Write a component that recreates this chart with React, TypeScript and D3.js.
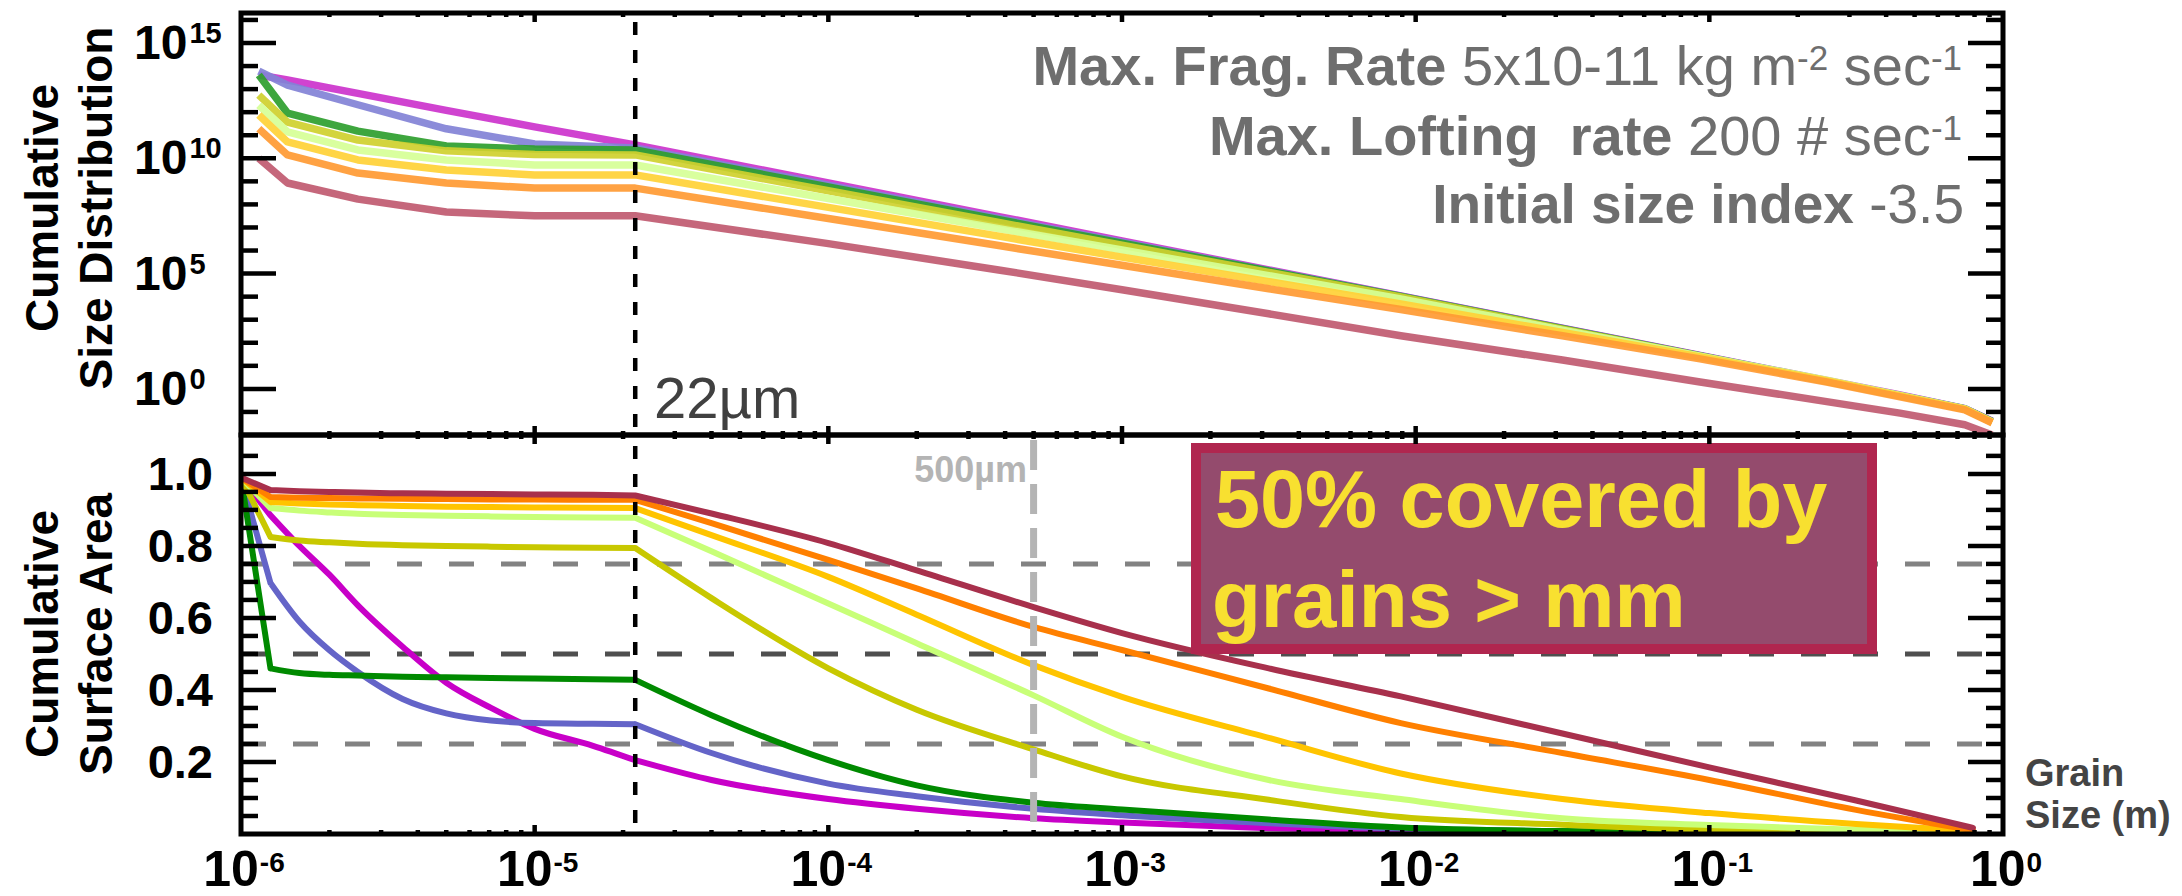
import React, { useEffect } from "react";
import * as d3 from "d3";

const W = 2182;
const H = 896;
const FONT = "'Liberation Sans', Arial, Helvetica, sans-serif";

// upper panel: grain size (m) and cumulative number of grains per run
const topSizes = [1.15e-6, 1.44e-6, 2.5e-6, 5e-6, 1e-5, 2.2e-5, 1e-4, 3.85e-4, 1e-3, 3.16e-3, 8.9e-3, 3.16e-2, 9.3e-2, 0.251, 0.446, 0.741, 0.918];
const topMagenta = [4.1e13, 2.5e13, 6.5e12, 1.2e12, 2.3e11, 3.8e10, 8.5e8, 2.9e7, 2.6e6, 1.45e5, 1.07e4, 430, 28, 2.3, 0.54, 0.14, 0.04];
const topBlue = [6.0e13, 1.5e13, 2.1e12, 1.9e11, 4.2e10, 2.8e10, 6.8e8, 2.4e7, 2.3e6, 1.35e5, 1.05e4, 417, 27.5, 2.24, 0.525, 0.138, 0.039];
const topGreen = [4.1e13, 9.1e11, 1.5e11, 3.4e10, 2.5e10, 2.3e10, 5.75e8, 2.1e7, 2.1e6, 1.29e5, 1.02e4, 407, 26.9, 2.19, 0.513, 0.135, 0.038];
const topOlive = [5.5e12, 3.7e11, 6.2e10, 2.1e10, 1.45e10, 1.4e10, 3.9e8, 1.6e7, 1.7e6, 1.12e5, 9.8e3, 389, 26.3, 2.14, 0.5, 0.132, 0.037];
const topLightGreen = [2.0e12, 1.4e11, 2.3e10, 8.5e9, 5.1e9, 5.1e9, 1.8e8, 8.7e6, 1.05e6, 8.1e4, 7.9e3, 355, 26.3, 2.4, 0.525, 0.135, 0.036];
const topYellow = [7.6e11, 5.1e10, 8.5e9, 3.1e9, 1.9e9, 1.9e9, 7.4e7, 4.1e6, 5.2e5, 4.5e4, 4.8e3, 282, 24, 2.24, 0.5, 0.132, 0.0355];
const topOrange = [1.9e11, 1.4e10, 2.3e9, 8.5e8, 5.1e8, 5.1e8, 2.45e7, 1.6e6, 2.3e5, 2.2e4, 2.75e3, 200, 20, 2.0, 0.45, 0.123, 0.034];
const topRose = [1.0e10, 8.5e8, 1.7e8, 4.7e7, 3.2e7, 3.2e7, 2.0e6, 1.4e5, 2.0e4, 1.8e3, 200, 17.8, 2.0, 0.28, 0.089, 0.028, 0.01];

// lower panel: grain size (m) and cumulative surface area fraction
const botSizes = [1e-6, 1.26e-6, 1.58e-6, 2e-6, 2.5e-6, 3.55e-6, 5e-6, 7.1e-6, 1e-5, 1.58e-5, 2.2e-5, 4e-5, 1e-4, 2e-4, 5e-4, 1e-3, 3.16e-3, 8.9e-3, 3.16e-2, 0.1, 0.316, 0.79];
const botMaroon = [0.99, 0.955, 0.952, 0.95, 0.948, 0.946, 0.945, 0.944, 0.943, 0.942, 0.94, 0.89, 0.808, 0.732, 0.63, 0.558, 0.46, 0.382, 0.279, 0.185, 0.093, 0.017];
const botOrange = [0.99, 0.936, 0.934, 0.933, 0.932, 0.931, 0.93, 0.929, 0.929, 0.928, 0.928, 0.863, 0.761, 0.682, 0.575, 0.511, 0.404, 0.308, 0.225, 0.15, 0.067, 0.01];
const botGold = [0.99, 0.922, 0.918, 0.915, 0.913, 0.911, 0.909, 0.908, 0.907, 0.906, 0.905, 0.83, 0.714, 0.609, 0.469, 0.381, 0.267, 0.168, 0.097, 0.058, 0.028, 0.008];
const botLightGreen = [0.99, 0.905, 0.898, 0.893, 0.889, 0.886, 0.884, 0.882, 0.88, 0.879, 0.878, 0.785, 0.64, 0.53, 0.385, 0.27, 0.15, 0.097, 0.044, 0.025, 0.012, 0.004];
const botOlive = [0.99, 0.825, 0.815, 0.81, 0.806, 0.802, 0.8, 0.798, 0.796, 0.795, 0.794, 0.655, 0.46, 0.345, 0.235, 0.16, 0.095, 0.047, 0.026, 0.012, 0.006, 0.002];
const botGreen = [0.99, 0.46, 0.447, 0.442, 0.44, 0.437, 0.435, 0.433, 0.432, 0.43, 0.428, 0.33, 0.205, 0.135, 0.087, 0.068, 0.04, 0.018, 0.008, 0.004, 0.002, 0.001];
const botBlue = [0.99, 0.697, 0.59, 0.51, 0.45, 0.375, 0.335, 0.315, 0.308, 0.306, 0.305, 0.225, 0.14, 0.105, 0.07, 0.052, 0.03, 0.015, 0.007, 0.003, 0.0015, 0.001];
const botMagenta = [0.99, 0.885, 0.8, 0.72, 0.635, 0.52, 0.42, 0.35, 0.292, 0.245, 0.205, 0.15, 0.097, 0.07, 0.044, 0.032, 0.016, 0.008, 0.004, 0.002, 0.001, 0.0005];

// tick labels
const xTickExps = [-6, -5, -4, -3, -2, -1, 0];
const yTopTickExps = [0, 5, 10, 15];
const yBotTickLabels = [0.2, 0.4, 0.6, 0.8, 1.0];
const hLines = [0.75, 0.5, 0.25];

const topSeries = [
  { v: topMagenta, c: "#cc33cc" },
  { v: topBlue, c: "#8282d6" },
  { v: topGreen, c: "#2e9e2e" },
  { v: topOlive, c: "#cfd02e" },
  { v: topLightGreen, c: "#d6ff96" },
  { v: topYellow, c: "#ffd136" },
  { v: topOrange, c: "#ff9a33" },
  { v: topRose, c: "#c05a70" },
];

const botSeries = [
  { v: botMagenta, c: "#c800c8" },
  { v: botBlue, c: "#6464c8" },
  { v: botGreen, c: "#008a00" },
  { v: botOlive, c: "#c8c800" },
  { v: botLightGreen, c: "#c8ff78" },
  { v: botGold, c: "#ffc400" },
  { v: botOrange, c: "#ff8000" },
  { v: botMaroon, c: "#a8304c" },
];

// sharp corners in the lower curves (first step and the 22 micron break)
const botBreaks = [1, 10];

const L = 241, R = 2003, T1 = 13, MID = 435, B2 = 834;

const App = () => {
  useEffect(() => {
    document.body.style.margin = "0";
  }, []);

  const x = d3.scaleLog().domain([1e-6, 1]).range([L, R]);
  const yTop = d3.scaleLog().domain([1e-2, 2e16]).range([MID, T1]);
  const yBot = d3.scaleLinear().domain([0, 1.108]).range([B2, MID]);

  const topLine = d3.line<number>().x((_, i) => x(topSizes[i])).y(d => yTop(d));

  const botPath = (vals: number[]) => {
    const pts: [number, number][] = vals.map((v, i) => [x(botSizes[i]), yBot(v)]);
    const cuts = [0, ...botBreaks, pts.length - 1];
    let d = "";
    for (let k = 0; k < cuts.length - 1; k++) {
      const seg = pts.slice(cuts[k], cuts[k + 1] + 1);
      const gen = d3.line().curve(seg.length > 2 ? d3.curveMonotoneX : d3.curveLinear);
      d += gen(seg) || "";
    }
    return d;
  };

  const xt = x.ticks().filter(t => t > 1e-6 * 1.01 && t < 0.99);
  const isMajor = (t: number) => Math.abs(Math.log10(t) - Math.round(Math.log10(t))) < 1e-6;

  const topYT = d3.range(-1, 17);
  const botYT = d3.range(1, 22);

  const tickW = 4.5;

  return (
    <svg width={W} height={H} style={{ position: "absolute", left: 0, top: 0, background: "#fff" }} fontFamily={FONT}>
      <defs>
        <clipPath id="clipTop"><rect x={L} y={T1} width={R - L} height={MID - T1} /></clipPath>
        <clipPath id="clipBot"><rect x={L} y={MID} width={R - L} height={B2 - MID} /></clipPath>
      </defs>

      {/* horizontal reference lines */}
      {hLines.map(v => (
        <line key={v} x1={L} x2={1984} y1={yBot(v)} y2={yBot(v)}
          stroke={v === 0.5 ? "#4f4f4f" : "#828282"} strokeWidth={5} strokeDasharray="25 27" />
      ))}

      {/* data */}
      <g clipPath="url(#clipTop)">
        {topSeries.map((s, i) => (
          <path key={i} d={topLine(s.v) || ""} fill="none" stroke={s.c} strokeWidth={7.5} strokeOpacity={0.92} strokeLinejoin="round" />
        ))}
      </g>
      <g clipPath="url(#clipBot)">
        {botSeries.map((s, i) => (
          <path key={i} d={botPath(s.v)} fill="none" stroke={s.c} strokeWidth={6} strokeLinejoin="round" strokeLinecap="round" />
        ))}
      </g>

      {/* 500 micron marker */}
      <line x1={x(5e-4)} x2={x(5e-4)} y1={440} y2={B2} stroke="#b4b4b4" strokeWidth={7} strokeDasharray="30 14" />
      <text x={1027} y={482} textAnchor="end" fontSize={36} fontWeight="bold" fill="#b4b4b4">500µm</text>

      {/* 22 micron marker */}
      <line x1={x(2.2e-5)} x2={x(2.2e-5)} y1={22} y2={MID} stroke="#000" strokeWidth={4.5} strokeDasharray="13 15" />
      <line x1={x(2.2e-5)} x2={x(2.2e-5)} y1={446} y2={B2} stroke="#000" strokeWidth={4.5} strokeDasharray="13 15" />
      <text x={654} y={418} fontSize={58} fill="#404040">22µm</text>

      {/* highlight box */}
      <rect x={1196} y={448} width={676} height={201} fill="#944b6d" stroke="#b0264f" strokeWidth={10} />
      <text x={1215} y={527} fontSize={81} fontWeight="bold" fill="#f8e030">50% covered by</text>
      <text x={1212} y={627} fontSize={80} fontWeight="bold" fill="#f8e030">grains &gt; mm</text>

      {/* run parameters */}
      <g fill="#6e6e6e" fontSize={56}>
        <text x={1962} y={85} textAnchor="end">
          <tspan fontWeight="bold">Max. Frag. Rate</tspan>
          <tspan>{"\u00a05x10-11 kg m"}</tspan>
          <tspan dy={-15} fontSize={35}>-2</tspan>
          <tspan dy={15}>{"\u00a0sec"}</tspan>
          <tspan dy={-15} fontSize={35}>-1</tspan>
        </text>
        <text x={1962} y={155} textAnchor="end">
          <tspan fontWeight="bold">{"Max. Lofting\u00a0\u00a0rate"}</tspan>
          <tspan>{"\u00a0200 # sec"}</tspan>
          <tspan dy={-15} fontSize={35}>-1</tspan>
        </text>
        <text x={1964} y={223} textAnchor="end" fontSize={55}>
          <tspan fontWeight="bold">Initial size index</tspan>
          <tspan>{"\u00a0-3.5"}</tspan>
        </text>
      </g>

      {/* frames */}
      <g stroke="#000" strokeWidth={5} fill="none">
        <rect x={L} y={T1} width={R - L} height={MID - T1} />
        <rect x={L} y={MID} width={R - L} height={B2 - MID} />
      </g>

      {/* x ticks */}
      <g stroke="#000" strokeWidth={tickW}>
        {xt.map(t => {
          const len = isMajor(t) ? 9 : 4;
          const px = x(t);
          return (
            <g key={t}>
              <line x1={px} x2={px} y1={T1} y2={T1 + len} />
              <line x1={px} x2={px} y1={MID - len} y2={MID + len} />
              <line x1={px} x2={px} y1={B2} y2={B2 - len} />
            </g>
          );
        })}
      </g>

      {/* y ticks */}
      <g stroke="#000" strokeWidth={tickW}>
        {topYT.map(e => {
          const len = e % 5 === 0 ? 35 : 17;
          const py = yTop(10 ** e);
          return (
            <g key={"t" + e}>
              <line x1={L} x2={L + len} y1={py} y2={py} />
              <line x1={R} x2={R - len} y1={py} y2={py} />
            </g>
          );
        })}
        {botYT.map(i => {
          const len = i % 4 === 0 ? 35 : 17;
          const py = yBot(i * 0.05);
          return (
            <g key={"b" + i}>
              <line x1={L} x2={L + len} y1={py} y2={py} />
              <line x1={R} x2={R - len} y1={py} y2={py} />
            </g>
          );
        })}
      </g>

      {/* tick labels */}
      <g fontWeight="bold" fill="#000">
        {yTopTickExps.map(e => (
          <text key={e} x={134} y={yTop(10 ** e) + 16} fontSize={48}>
            <tspan>10</tspan>
            <tspan dx={2} dy={-16} fontSize={29}>{String(e)}</tspan>
          </text>
        ))}
        {yBotTickLabels.map(v => (
          <text key={v} x={213} y={yBot(v) + 16} fontSize={47} textAnchor="end">{v.toFixed(1)}</text>
        ))}
        {xTickExps.map(e => (
          <text key={e} x={x(10 ** e) + 3} y={886} fontSize={50} textAnchor="middle">
            <tspan>10</tspan>
            <tspan dx={1} dy={-14} fontSize={28}>{String(e)}</tspan>
          </text>
        ))}
      </g>

      {/* axis titles */}
      <g fontWeight="bold" fontSize={46} fill="#000" textAnchor="middle">
        <text transform="translate(58,208) rotate(-90)">Cumulative</text>
        <text transform="translate(112,208) rotate(-90)">Size Distribution</text>
        <text transform="translate(58,634) rotate(-90)">Cumulative</text>
        <text transform="translate(112,634) rotate(-90)">Surface Area</text>
      </g>
      <g fontWeight="bold" fontSize={38} fill="#444">
        <text x={2025} y={786}>Grain</text>
        <text x={2025} y={828}>Size (m)</text>
      </g>
    </svg>
  );
};

export default App;
